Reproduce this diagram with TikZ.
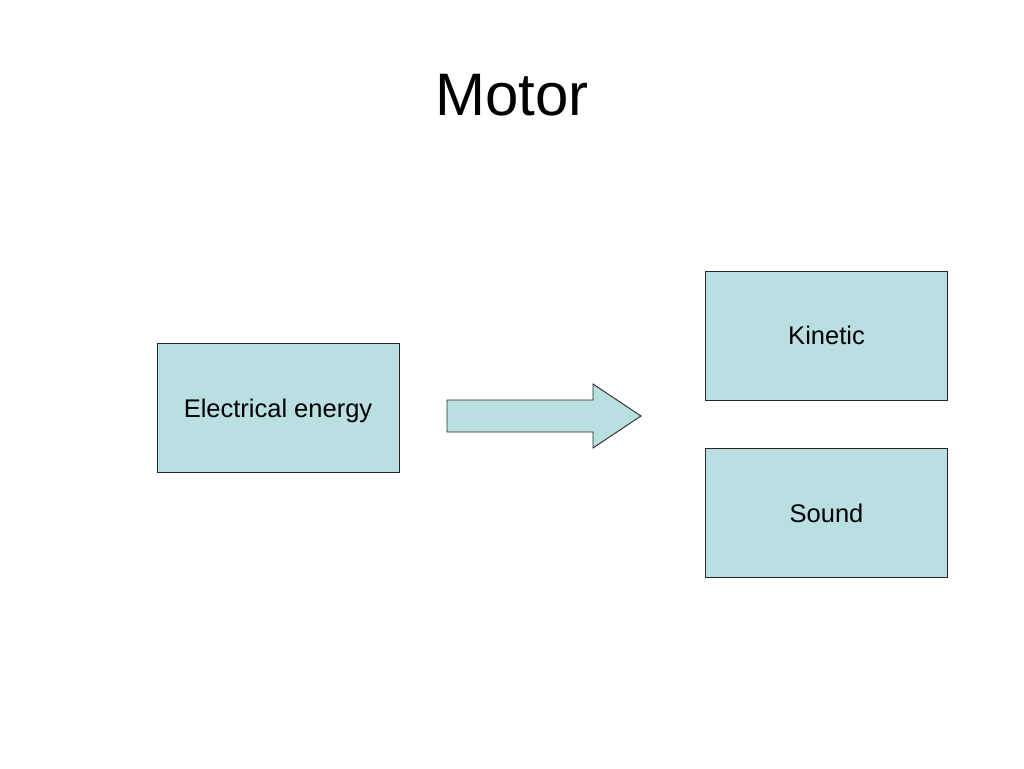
\documentclass[tikz,border=0pt]{standalone}
\usepackage{fontspec}
\setmainfont{Liberation Sans}
\definecolor{boxfill}{RGB}{185,223,227}
\begin{document}
\begin{tikzpicture}[x=1pt,y=-1pt,
  ebox/.style={draw=black!85,line width=0.9pt,fill=boxfill,minimum width=242pt,minimum height=129pt,inner sep=0pt,text height=18.5pt,text depth=0pt,font=\fontsize{25.5}{30}\selectfont},
]
\useasboundingbox (0,0) rectangle (1024,768);
\fill[white] (0,0) rectangle (1024,768);
\node[font=\fontsize{60}{70}\selectfont,anchor=base] (title) at (512,115) {Motor};
\node[ebox] (elec) at (278,408) {Electrical energy};
\node[ebox] (kin) at (826.5,335.5) {Kinetic};
\node[ebox] (snd) at (826.5,513) {Sound};
\draw[draw=black!85,line width=0.9pt,fill=boxfill] (447,400) -- (593,400) -- (593,384) -- (641,416) -- (593,448) -- (593,432) -- (447,432) -- cycle;
\end{tikzpicture}
\end{document}
